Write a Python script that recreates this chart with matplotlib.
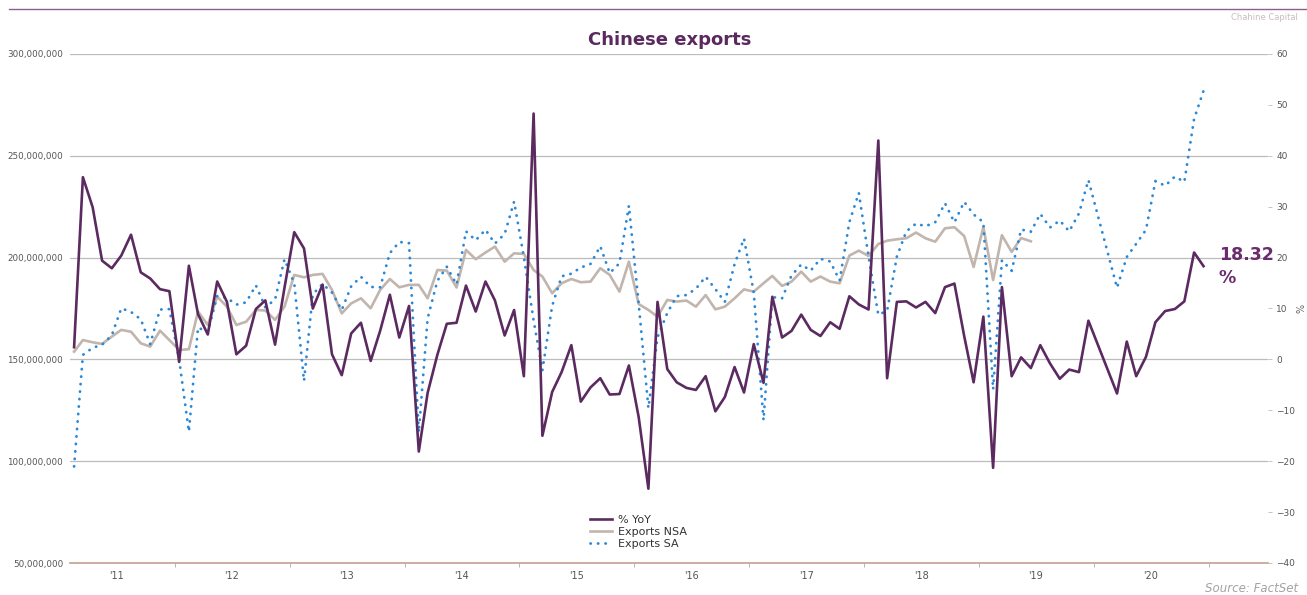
import matplotlib
matplotlib.use("Agg")
import matplotlib.pyplot as plt
import matplotlib.dates as mdates
import matplotlib.ticker as mticker
from matplotlib.lines import Line2D
import numpy as np
import pandas as pd

# monthly observations Feb 2011 .. Dec 2020, stamped mid-month
months = pd.date_range("2011-02-01", "2020-12-01", freq="MS") + pd.Timedelta(days=14)

# % YoY (right axis); Jan/Feb 2020 were reported combined -> no point
yoy_pct = [
    2.4, 35.8, 29.9, 19.4, 17.9, 20.4, 24.5, 17.1, 15.9, 13.8, 13.4,
    -0.5, 18.4, 8.9, 4.9, 15.3, 11.3, 1.0, 2.7, 9.9, 11.6, 2.9, 14.1,
    25.0, 21.8, 10.0, 14.7, 1.0, -3.1, 5.1, 7.2, -0.3, 5.6, 12.7, 4.3,
    10.5, -18.1, -6.6, 0.9, 7.0, 7.2, 14.5, 9.4, 15.3, 11.6, 4.7, 9.7,
    -3.3, 48.3, -15.0, -6.4, -2.5, 2.8, -8.3, -5.5, -3.7, -6.9, -6.8, -1.2,
    -11.3, -25.4, 11.3, -1.9, -4.5, -5.6, -6.0, -3.3, -10.2, -7.4, -1.5, -6.5,
    3.0, -4.6, 12.3, 4.3, 5.6, 8.8, 5.8, 4.6, 7.3, 6.0, 12.4, 10.8,
    9.8, 43.0, -3.7, 11.3, 11.4, 10.2, 11.3, 9.1, 14.2, 14.9, 4.6, -4.5,
    8.4, -21.3, 14.2, -3.3, 0.4, -1.7, 2.8, -0.8, -3.8, -2.0, -2.5, 7.6,
    None, None, -6.7, 3.5, -3.3, 0.5, 7.3, 9.5, 9.9, 11.4, 21.0, 18.32,
]

# Exports NSA, USD bn (series stops Jun 2019)
exports_nsa_bn = [
    153.8, 159.5, 158.4, 157.6, 161.2, 164.5, 163.6, 157.9, 156.3, 164.1, 159.5,
    154.6, 155.0, 173.5, 166.9, 180.8, 175.9, 166.9, 168.5, 174.3, 174.0, 169.4, 175.9,
    191.5, 190.3, 191.5, 192.0, 184.1, 172.6, 177.5, 180.0, 175.1, 184.1, 189.5, 185.4,
    186.6, 186.6, 180.0, 193.9, 193.6, 185.3, 203.8, 199.2, 202.5, 205.4, 198.0, 202.1,
    201.8, 193.9, 190.7, 182.5, 187.4, 189.5, 187.9, 188.2, 194.8, 191.5, 183.3, 198.0,
    177.2, 174.3, 171.0, 179.2, 178.4, 178.9, 175.9, 181.6, 174.6, 175.9, 180.0, 184.4,
    183.3, 187.4, 191.0, 186.1, 188.2, 193.1, 188.2, 190.7, 188.2, 187.4, 201.0, 203.4,
    200.8, 206.7, 208.3, 209.0, 209.5, 212.3, 209.5, 207.8, 214.4, 214.9, 210.6, 195.4,
    215.0, 189.0, 211.0, 202.8, 209.6, 208.0,
]

# Exports SA, USD bn
exports_sa_bn = [
    97.4, 152.2, 155.7, 157.2, 161.9, 175.1, 173.3, 169.7, 157.5, 174.5, 174.7,
    149.9, 114.5, 165.7, 163.3, 181.1, 180.2, 176.9, 178.0, 186.4, 175.6, 179.4, 199.2,
    187.4, 139.4, 182.0, 187.1, 182.8, 174.3, 185.9, 190.6, 185.6, 185.4, 202.2, 207.7,
    207.1, 114.1, 170.1, 188.6, 195.5, 186.8, 212.9, 208.5, 213.7, 206.9, 211.6, 227.5,
    200.3, 169.2, 144.6, 176.3, 190.8, 192.1, 195.1, 196.9, 205.6, 192.4, 197.2, 225.5,
    177.5, 126.1, 160.8, 172.8, 181.1, 181.6, 184.7, 190.6, 184.5, 178.2, 196.8, 209.4,
    182.8, 120.1, 180.6, 180.0, 191.2, 196.6, 193.6, 199.4, 198.1, 188.8, 217.4, 231.8,
    200.5, 171.9, 173.9, 200.5, 212.9, 216.7, 215.4, 217.4, 226.7, 217.3, 227.4, 221.2,
    217.4, 135.2, 198.7, 193.5, 213.8, 212.7, 221.5, 214.8, 218.2, 212.9, 221.7, 238.1,
    None, None, 185.2, 200.3, 206.8, 213.6, 237.6, 235.3, 239.8, 237.2, 268.1, 281.9,
]

series_names = ["% YoY", "Exports NSA", "Exports SA"]
label_years = list(range(2011, 2021))

PURPLE = "#5b2a60"
BEIGE = "#c1b5ad"
BLUE = "#2a88d6"

W, H = 1307, 595
fig = plt.figure(figsize=(W / 100, H / 100), dpi=100)
ax = fig.add_axes([70 / W, 1 - 563 / H, (1268 - 70) / W, (563 - 54) / H])
ax2 = ax.twinx()

yoy = np.array(yoy_pct, dtype=float)
sa = np.array(exports_sa_bn, dtype=float)
nsa = np.array(exports_nsa_bn, dtype=float)
ok_yoy = ~np.isnan(yoy)
ok_sa = ~np.isnan(sa)

l_nsa, = ax.plot(months[:len(nsa)], nsa * 1e6, color=BEIGE, lw=1.9, zorder=3)
l_sa, = ax.plot(months[ok_sa], sa[ok_sa] * 1e6, color=BLUE, lw=2.0,
                linestyle=(0, (0.1, 2.6)), dash_capstyle="round", zorder=4)
l_yoy, = ax2.plot(months[ok_yoy], yoy[ok_yoy], color=PURPLE, lw=1.9, zorder=5)

# left axis: exports in USD thousands
ax.set_ylim(50e6, 300e6)
ax.set_yticks(np.arange(50e6, 300e6 + 1, 50e6))
ax.yaxis.set_major_formatter(mticker.FuncFormatter(lambda v, _: f"{v:,.0f}"))
ax.grid(axis="y", color="#bcbcbc", lw=0.9)
ax.set_axisbelow(True)
ax.tick_params(axis="y", length=0, pad=5, labelsize=6.3, labelcolor="#555555")

# right axis: % YoY
ax2.set_ylim(-40, 60)
ax2.set_yticks(range(-40, 61, 10))
ax2.tick_params(axis="y", length=3, width=0.6, color="#bbbbbb", pad=3,
                labelsize=6.5, labelcolor="#555555")
ax2.set_ylabel("%", rotation=90, fontsize=7, color="#666666", labelpad=1)

for a in (ax, ax2):
    for side in ("top", "left", "right", "bottom"):
        a.spines[side].set_visible(False)
ax.spines["bottom"].set_visible(True)
ax.spines["bottom"].set_color("#c9a89a")
ax.spines["bottom"].set_linewidth(1.3)

# x axis: year labels mid-year, ticks at year boundaries
ax.set_xlim(pd.Timestamp("2011-02-02"), pd.Timestamp("2021-07-08"))
ax.xaxis.set_major_locator(mticker.FixedLocator(
    [mdates.date2num(pd.Timestamp(y, 7, 1)) for y in label_years]))
ax.xaxis.set_major_formatter(mdates.DateFormatter("'%y"))
ax.xaxis.set_minor_locator(mdates.YearLocator(base=1, month=1, day=1))
ax.tick_params(axis="x", which="major", length=0, pad=6, labelsize=7, labelcolor="#555555")
ax.tick_params(axis="x", which="minor", length=3, width=0.6, color="#aaaaaa")

# latest reading next to the last point
ax2.annotate(f"{yoy[ok_yoy][-1]:.2f}\n%", xy=(months[ok_yoy][-1], yoy[ok_yoy][-1]),
             xytext=(11, 0), textcoords="offset points", ha="left", va="center",
             fontsize=12.5, fontweight="bold", color="#6a2c6c", linespacing=1.35)

fig.legend([l_yoy, l_nsa, l_sa], series_names, loc="center left",
           bbox_to_anchor=(590 / W, 1 - 532 / H), frameon=False, fontsize=8,
           handlelength=2.0, handletextpad=0.5, labelspacing=0.2,
           borderpad=0, borderaxespad=0, labelcolor="#333333")

fig.add_artist(Line2D([9 / W, 1], [1 - 9 / H, 1 - 9 / H], color="#8d5d8f", lw=1))
fig.text(670 / W, 1 - 40 / H, "Chinese exports", ha="center", va="center",
         fontsize=13, fontweight="bold", color="#5a2a5f")
fig.text(1298 / W, 1 - 18 / H, "Chahine Capital", ha="right", va="center",
         fontsize=6, color="#cbbcbc")
fig.text(1298 / W, 1 - 589 / H, "Source: FactSet", ha="right", va="center",
         fontsize=8.5, style="italic", color="#a3a3a3")

fig.savefig("out.png", dpi=100)
